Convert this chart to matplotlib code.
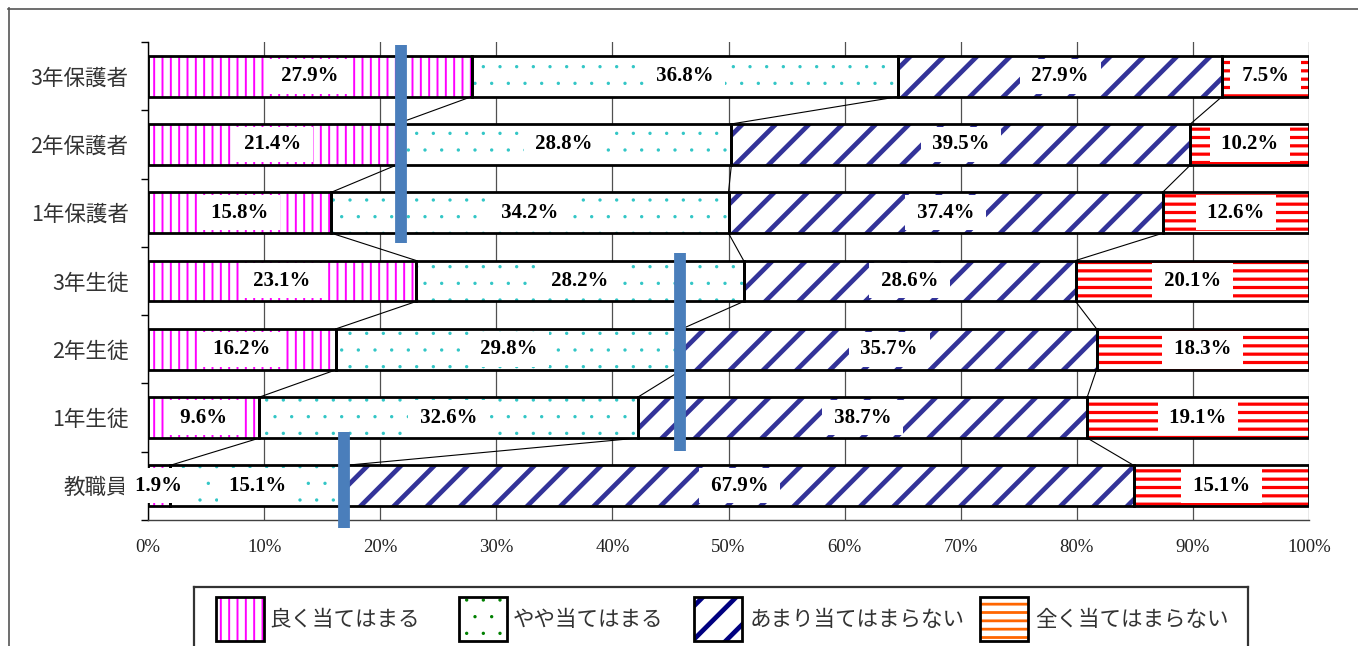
import numpy as np
import matplotlib
matplotlib.use("Agg")
import matplotlib.pyplot as plt
from matplotlib.patches import Rectangle
from matplotlib.lines import Line2D

# ---------------- data ----------------
categories = ["3年保護者", "2年保護者", "1年保護者", "3年生徒", "2年生徒", "1年生徒", "教職員"]
series_names = ["良く当てはまる", "やや当てはまる", "あまり当てはまらない", "全く当てはまらない"]
yoku = [27.9, 21.4, 15.8, 23.1, 16.2, 9.6, 1.9]
yaya = [36.8, 28.8, 34.2, 28.2, 29.8, 32.6, 15.1]
amari = [27.9, 39.5, 37.4, 28.6, 35.7, 38.7, 67.9]
mattaku = [7.5, 10.2, 12.6, 20.1, 18.3, 19.1, 15.1]
xticks = list(range(0, 101, 10))
xticklabels = [f"{v}%" for v in xticks]

W, H = 1358, 646
fig = plt.figure(figsize=(W / 100, H / 100), dpi=100)
fig.patch.set_facecolor("white")


def fx(x):
    return x / W


def fy(y):
    return 1 - y / H


ax = fig.add_axes([fx(148), fy(520), fx(1309) - fx(148), fy(42) - fy(520)])

raw = np.array([yoku, yaya, amari, mattaku], dtype=float)  # 4 x 7
norm = raw / raw.sum(axis=0) * 100
cum = np.vstack([np.zeros(raw.shape[1]), np.cumsum(norm, axis=0)])
ypos = np.arange(len(categories))
bar_h = 0.6

hatch_specs = [
    ("||", "#FF00FF", 1.4),
    (".", "#33C6C6", 0.0),
    ("/", "#333399", 3.4),
    ("--", "#FF0000", 2.3),
]


def hatched(artists, lw):
    for a in artists:
        if hasattr(a, "set_hatch_linewidth"):
            a.set_hatch_linewidth(lw)


for s in range(4):
    hatch, col, hlw = hatch_specs[s]
    with plt.rc_context({"hatch.linewidth": hlw}):
        bars = ax.barh(ypos, norm[s], left=cum[s], height=bar_h, facecolor="white",
                       edgecolor=col, linewidth=0, hatch=hatch, zorder=2)
        hatched(bars, hlw)
    ax.barh(ypos, norm[s], left=cum[s], height=bar_h, fill=False,
            edgecolor="black", linewidth=2.0, zorder=3)
    for i in range(len(categories)):
        xc = cum[s][i] + norm[s][i] / 2
        ax.text(xc, ypos[i], f"\u2009{raw[s][i]:.1f}%\u2009", ha="center", va="center",
                fontsize=15, fontweight="bold", family="Liberation Serif",
                color="black", zorder=4,
                bbox=dict(boxstyle="square,pad=0.36", facecolor="white", edgecolor="none"))

# series lines between adjacent bars
for i in range(len(categories) - 1):
    for k in range(1, 4):
        ax.plot([cum[k][i], cum[k][i + 1]], [ypos[i] + bar_h / 2, ypos[i + 1] - bar_h / 2],
                color="black", lw=0.8, zorder=2.5)

# blue marker lines (annotations)
blue_marks = [(21.77, -0.45, 2.44), (45.8, 2.59, 5.49), (16.9, 5.21, 6.62)]
for xm, y0, y1 in blue_marks:
    ax.plot([xm, xm], [y0, y1], color="#4A7EBB", lw=8.5, solid_capstyle="butt",
            zorder=6, clip_on=False)

ax.set_xlim(0, 100)
ax.set_ylim(len(categories) - 0.5, -0.5)
ax.set_xticks(xticks)
ax.set_xticklabels(xticklabels, family="Liberation Serif", fontsize=13.5, color="#222222")
ax.tick_params(axis="x", length=0, pad=14)
ax.set_yticks(np.arange(-0.5, len(categories), 1))
ax.set_yticklabels([])
ax.set_yticks(ypos, minor=True)
ax.set_yticklabels(categories, minor=True, family=["Noto Sans CJK JP", "DejaVu Sans"],
                   fontsize=15.5, color="#333333")
ax.tick_params(axis="y", which="major", length=5, width=1, direction="out", color="black")
ax.tick_params(axis="y", which="minor", length=0, pad=14)
ax.grid(axis="x", color="#505050", lw=0.9)
ax.set_axisbelow(True)
for sp in ["top", "right"]:
    ax.spines[sp].set_visible(False)
ax.spines["left"].set_color("black")
ax.spines["bottom"].set_color("#404040")
ax.spines["left"].set_linewidth(1)
ax.spines["bottom"].set_linewidth(1)

# outer frame (cropped at right/bottom)
fig.add_artist(Line2D([fx(8), 1.0], [fy(8.5), fy(8.5)], transform=fig.transFigure,
                      color="#555555", lw=1.2))
fig.add_artist(Line2D([fx(8.5), fx(8.5)], [fy(8), 0.0], transform=fig.transFigure,
                      color="#555555", lw=1.2))

# legend box (cropped at bottom)
lx0, lx1, ly0 = 194, 1248, 586.5
for xs, ys in [([lx0, lx1], [ly0, ly0]), ([lx0, lx0], [ly0, H + 5]), ([lx1, lx1], [ly0, H + 5])]:
    fig.add_artist(Line2D([fx(v) for v in xs], [fy(v) for v in ys], transform=fig.transFigure,
                          color="#333333", lw=1.6))

legend_specs = [
    ("||", "#FF00FF", 1.4),
    (".", "#008000", 0.0),
    ("/", "#000080", 3.4),
    ("--", "#FF6600", 2.0),
]
handle_x = [216, 459, 694, 980]
text_x = [269, 513, 750, 1035]
hy0, hy1 = 597, 641
for s in range(4):
    hatch, col, hlw = legend_specs[s]
    with plt.rc_context({"hatch.linewidth": hlw}):
        r = Rectangle((fx(handle_x[s]), fy(hy1)), fx(48), fy(hy0) - fy(hy1),
                      transform=fig.transFigure, facecolor="white", edgecolor=col,
                      linewidth=0, hatch=hatch)
        hatched([r], hlw)
    fig.add_artist(r)
    fig.add_artist(Rectangle((fx(handle_x[s]), fy(hy1)), fx(48), fy(hy0) - fy(hy1),
                             transform=fig.transFigure, fill=False, edgecolor="black",
                             linewidth=2.0))
    fig.text(fx(text_x[s]), fy(620), series_names[s], ha="left", va="center",
             family=["Noto Sans CJK JP", "DejaVu Sans"], fontsize=15.5, color="#333333")

fig.savefig("out.png", dpi=100)
